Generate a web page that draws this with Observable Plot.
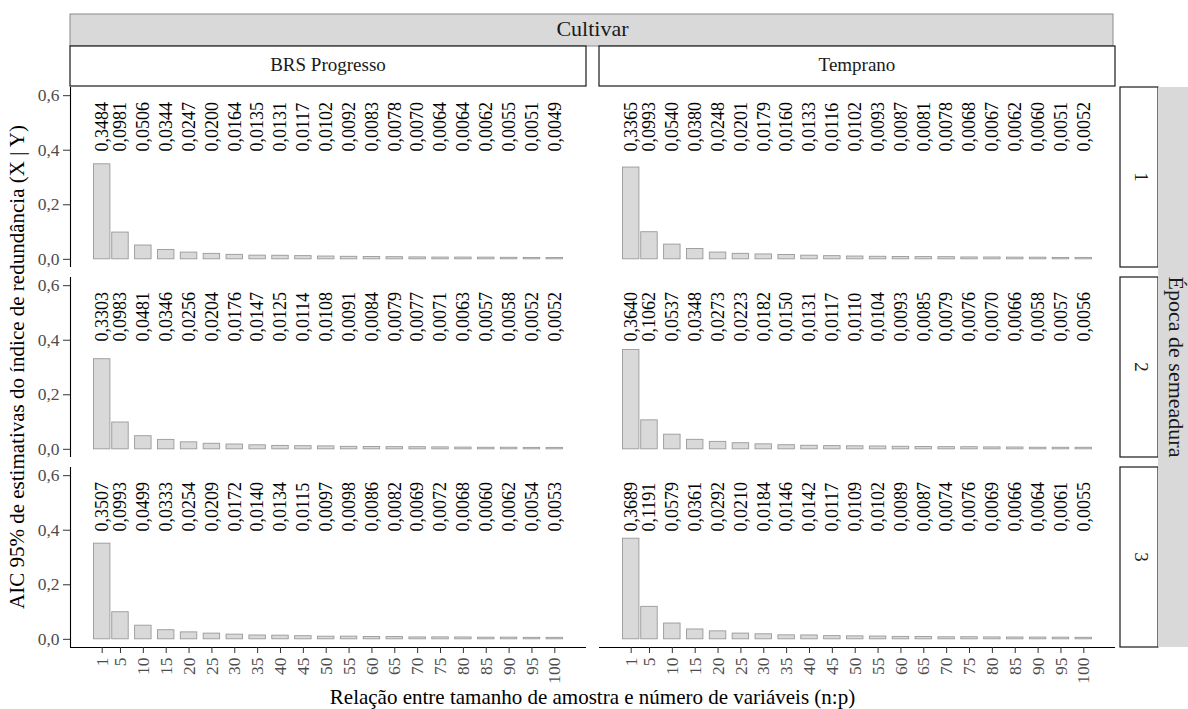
<!DOCTYPE html>
<html>
<head>
<meta charset="utf-8">
<script src="https://cdn.jsdelivr.net/npm/d3@7"></script>
<script src="https://cdn.jsdelivr.net/npm/@observablehq/plot@0.6"></script>
<style>
  html, body { margin: 0; padding: 0; background: white; }
  #chart svg { display: block; }
  #chart svg, #chart svg text { font-family: "Liberation Serif", "Tinos", "Times New Roman", "DejaVu Serif", serif; }
</style>
</head>
<body>
<div id="chart"></div>
<script>
// ---- data ----
const cultivars = ["BRS Progresso", "Temprano"];
const epocas = [1, 2, 3];
const ratios = [1, 5, 10, 15, 20, 25, 30, 35, 40, 45, 50, 55, 60, 65, 70, 75, 80, 85, 90, 95, 100];

const brsE1 = [0.3484, 0.0981, 0.0506, 0.0344, 0.0247, 0.0200, 0.0164, 0.0135, 0.0131, 0.0117, 0.0102, 0.0092, 0.0083, 0.0078, 0.0070, 0.0064, 0.0064, 0.0062, 0.0055, 0.0051, 0.0049];
const brsE2 = [0.3303, 0.0983, 0.0481, 0.0346, 0.0256, 0.0204, 0.0176, 0.0147, 0.0125, 0.0114, 0.0108, 0.0091, 0.0084, 0.0079, 0.0077, 0.0071, 0.0063, 0.0057, 0.0058, 0.0052, 0.0052];
const brsE3 = [0.3507, 0.0993, 0.0499, 0.0333, 0.0254, 0.0209, 0.0172, 0.0140, 0.0134, 0.0115, 0.0097, 0.0098, 0.0086, 0.0082, 0.0069, 0.0072, 0.0068, 0.0060, 0.0062, 0.0054, 0.0053];
const temE1 = [0.3365, 0.0993, 0.0540, 0.0380, 0.0248, 0.0201, 0.0179, 0.0160, 0.0133, 0.0116, 0.0102, 0.0093, 0.0087, 0.0081, 0.0078, 0.0068, 0.0067, 0.0062, 0.0060, 0.0051, 0.0052];
const temE2 = [0.3640, 0.1062, 0.0537, 0.0348, 0.0273, 0.0223, 0.0182, 0.0150, 0.0131, 0.0117, 0.0110, 0.0104, 0.0093, 0.0085, 0.0079, 0.0076, 0.0070, 0.0066, 0.0058, 0.0057, 0.0056];
const temE3 = [0.3689, 0.1191, 0.0579, 0.0361, 0.0292, 0.0210, 0.0184, 0.0146, 0.0142, 0.0117, 0.0109, 0.0102, 0.0089, 0.0087, 0.0074, 0.0076, 0.0069, 0.0066, 0.0064, 0.0061, 0.0055];

const yTicks = [0, 0.2, 0.4, 0.6];

const series = [
  {c: "BRS Progresso", e: 1, v: brsE1},
  {c: "BRS Progresso", e: 2, v: brsE2},
  {c: "BRS Progresso", e: 3, v: brsE3},
  {c: "Temprano", e: 1, v: temE1},
  {c: "Temprano", e: 2, v: temE2},
  {c: "Temprano", e: 3, v: temE3}
];
const data = series.flatMap(s => s.v.map((v, i) => ({c: s.c, e: s.e, x: ratios[i], v})));

// ---- layout / style ----
const W = 1188, H = 709;
const halfBar = 1.8;          // geom_col width 0.9 * resolution(4)
const labelY = 0.395;         // where value labels start
const xDomain = [-5.93, 106.93];
const yDomain = [-0.03, 0.63];
const serif = "Liberation Serif, Tinos, Times New Roman, DejaVu Serif, serif";
const fmt = (d, n) => d.toFixed(n).replace(".", ",");

const plot = Plot.plot({
  width: W, height: H,
  marginTop: 86, marginLeft: 70, marginRight: 73, marginBottom: 61,
  style: {fontFamily: serif, background: "white", color: "#4d4d4d"},
  x: {domain: xDomain},
  y: {domain: yDomain},
  fx: {domain: cultivars, paddingInner: 0.0246, paddingOuter: 0, axis: null},
  fy: {domain: epocas, paddingInner: 0.054, paddingOuter: 0, axis: null},
  marks: [
    Plot.rect(data, {
      x1: d => d.x - halfBar, x2: d => d.x + halfBar, y1: 0, y2: "v",
      fx: "c", fy: "e", fill: "#d9d9d9", stroke: "#999999", strokeWidth: 0.9
    }),
    Plot.text(data, {
      x: "x", y: () => labelY, fx: "c", fy: "e",
      text: d => fmt(d.v, 4), rotate: -90, textAnchor: "start",
      fontSize: 18, fill: "black"
    }),
    Plot.ruleX([xDomain[0]], {facetAnchor: "left", stroke: "black", strokeWidth: 1.1}),
    Plot.ruleY([yDomain[0]], {facetAnchor: "bottom", stroke: "black", strokeWidth: 1.1}),
    Plot.axisY(yTicks, {anchor: "left", tickFormat: d => fmt(d, 1), fontSize: 17.5, tickSize: 7, tickPadding: 4, label: null, stroke: "#333"}),
    Plot.axisX(ratios, {anchor: "bottom", tickRotate: -90, fontSize: 17.5, tickSize: 6, tickPadding: 4, label: null, stroke: "#333"})
  ]
});

document.getElementById("chart").appendChild(plot);

// ---- strips & titles (ggplot facet strips) ----
const fx = plot.scale("fx"), fy = plot.scale("fy");
const bwX = fx.bandwidth, bwY = fy.bandwidth;
const svg = d3.select(plot);
const g = svg.append("g").attr("fill", "#1a1a1a");

const xLeft = fx.apply(cultivars[0]);
const xRight = fx.apply(cultivars[cultivars.length - 1]) + bwX;
const yTop = fy.apply(epocas[0]);
const yBottom = fy.apply(epocas[epocas.length - 1]) + bwY;

// top gray strip "Cultivar"
g.append("rect").attr("x", xLeft).attr("y", 14).attr("width", xRight - xLeft - 2).attr("height", 32)
  .attr("fill", "#d9d9d9").attr("stroke", "#8a8a8a").attr("stroke-width", 1);
g.append("text").attr("x", (xLeft + xRight) / 2).attr("y", 31).attr("text-anchor", "middle")
  .attr("dominant-baseline", "middle").attr("font-size", 22).text("Cultivar");

// column strips
for (const c of cultivars) {
  const x0 = fx.apply(c);
  g.append("rect").attr("x", x0).attr("y", 46).attr("width", bwX).attr("height", 40)
    .attr("fill", "white").attr("stroke", "#1a1a1a").attr("stroke-width", 1.2);
  g.append("text").attr("x", x0 + bwX / 2).attr("y", 67).attr("text-anchor", "middle")
    .attr("dominant-baseline", "middle").attr("font-size", 19).text(c);
}

// row strips
const rsX = W - 68, rsW = 38;
for (const e of epocas) {
  const y0 = fy.apply(e);
  g.append("rect").attr("x", rsX).attr("y", y0).attr("width", rsW).attr("height", bwY)
    .attr("fill", "white").attr("stroke", "#1a1a1a").attr("stroke-width", 1.2);
  g.append("text").attr("transform", `translate(${rsX + rsW / 2},${y0 + bwY / 2}) rotate(90)`)
    .attr("text-anchor", "middle").attr("dominant-baseline", "middle").attr("font-size", 19).text(String(e));
}
// right gray strip
g.append("rect").attr("x", rsX + rsW).attr("y", yTop).attr("width", 32).attr("height", yBottom - yTop)
  .attr("fill", "#d9d9d9").attr("stroke", "none");
g.append("text").attr("transform", `translate(${rsX + rsW + 16},${(yTop + yBottom) / 2}) rotate(90)`)
  .attr("text-anchor", "middle").attr("dominant-baseline", "middle").attr("font-size", 22).text("Época de semeadura");

// axis titles
g.append("text").attr("x", (xLeft + xRight) / 2).attr("y", 699).attr("text-anchor", "middle")
  .attr("dominant-baseline", "middle").attr("font-size", 21).attr("fill", "black")
  .text("Relação entre tamanho de amostra e número de variáveis (n:p)");
g.append("text").attr("transform", `translate(19,${(yTop + yBottom) / 2}) rotate(-90)`)
  .attr("text-anchor", "middle").attr("dominant-baseline", "middle").attr("font-size", 21).attr("fill", "black")
  .text("AIC 95% de estimativas do índice de redundância (X | Y)");
</script>
</body>
</html>
